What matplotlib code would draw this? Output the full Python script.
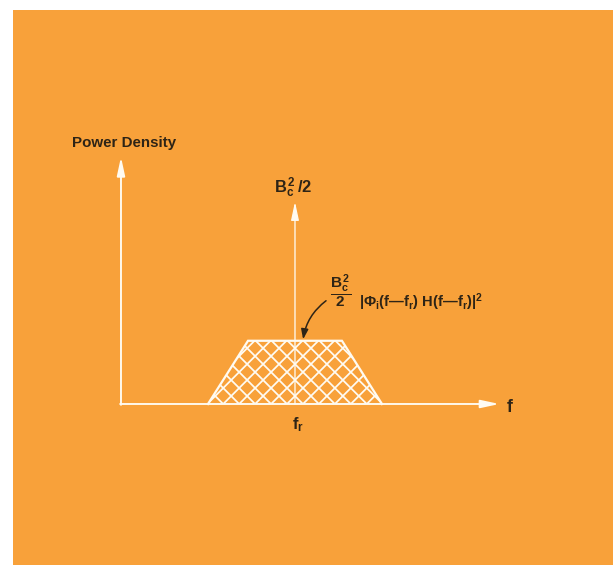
import numpy as np
import matplotlib
matplotlib.use("Agg")
import matplotlib.pyplot as plt
from matplotlib.patches import Rectangle, Polygon

# Spectrum sketch: received power density versus frequency
f_r = 6.0                 # carrier (reference) frequency
half_bottom = 3.0         # half-width of the band at its base
half_top = 1.62           # half-width of the flat top
band_level = 2.18         # level of the filtered spectrum
impulse_level = 6.97      # carrier line B_c^2/2
y_axis_top = 8.52
f_axis_end = 13.05

ylabel_text = "Power Density"
xlabel_text = "f"
fr_label = r"$f_r$"
impulse_label = r"$B_c^{\,2}\,/2$"
band_coef = r"$\dfrac{B_c^{\,2}}{2}$"
band_shape = "$|\\Phi_i(f\u2014f_r)\\ H(f\u2014f_r)|^2$"

ORANGE = "#F8A13A"
INK = "#2E2416"
WHITE = "#FFFBF2"

plt.rcParams["font.family"] = ["Liberation Sans", "DejaVu Sans"]
plt.rcParams["mathtext.fontset"] = "custom"
plt.rcParams["mathtext.default"] = "rm"
plt.rcParams["mathtext.rm"] = "Liberation Sans:bold"
plt.rcParams["mathtext.it"] = "Liberation Sans:bold"
plt.rcParams["mathtext.bf"] = "Liberation Sans:bold"
plt.rcParams["mathtext.sf"] = "Liberation Sans:bold"

DPI = 85
fig = plt.figure(figsize=(613 / DPI, 565 / DPI), dpi=DPI, facecolor="white")

# orange page with a thin white margin at the top and left
fig.patches.append(Rectangle((13 / 613, 0), 1, 1 - 10 / 565,
                             transform=fig.transFigure, facecolor=ORANGE,
                             edgecolor="none", zorder=-10))

ax = fig.add_axes([0, 0, 1, 1], zorder=5)
ax.patch.set_alpha(0)
ax.set_xlim(-4.172, 16.966)
ax.set_ylim(-5.552, 13.931)
ax.axis("off")

# band outline and its cross-hatching (diagonals clipped to the band)
xs = [f_r - half_bottom, f_r - half_top, f_r + half_top, f_r + half_bottom]
ys = [0, band_level, band_level, 0]
band = Polygon(list(zip(xs, ys)), closed=True, facecolor="none", edgecolor="none")
ax.add_patch(band)
step = 0.55
offsets = (np.arange(-12, 12, 1) + 0.5) * step
for c in offsets:
    for sgn in (1, -1):
        lx = np.array([f_r - half_bottom - 1, f_r + half_bottom + 1])
        ly = sgn * (lx - f_r - c)
        ln, = ax.plot(lx, ly, color=WHITE, lw=1.5, zorder=2)
        ln.set_clip_path(band)
ax.plot(xs, ys, color=WHITE, lw=1.9, solid_joinstyle="miter", zorder=3)

arrow_kw = dict(arrowstyle="-|>,head_length=1.3,head_width=0.28",
                color=WHITE, shrinkA=0, shrinkB=0)
# axes arrows
ax.annotate("", xy=(0, y_axis_top), xytext=(0, -0.03),
            arrowprops=dict(lw=1.6, **arrow_kw), zorder=4)
ax.annotate("", xy=(f_axis_end, 0), xytext=(-0.03, 0),
            arrowprops=dict(lw=1.6, **arrow_kw), zorder=4)
# carrier impulse
ax.annotate("", xy=(f_r, impulse_level), xytext=(f_r, 0),
            arrowprops=dict(lw=1.1, **arrow_kw), zorder=4)

# labels
ax.text(-1.68, y_axis_top + 0.47, ylabel_text, fontsize=12.8, fontweight="bold",
        color=INK, ha="left", va="center")
ax.text(f_axis_end + 0.35, -0.12, xlabel_text, fontsize=15, fontweight="bold",
        color=INK, ha="center", va="center")
ax.text(f_r + 0.1, -0.72, fr_label, fontsize=14, color=INK, ha="center", va="center")
ax.text(f_r - 0.72, impulse_level + 0.5, impulse_label, fontsize=14, color=INK,
        ha="left", va="center")
ax.text(f_r + 1.22, band_level + 1.7, band_coef, fontsize=13, color=INK,
        ha="left", va="center")
ax.text(f_r + 2.2, band_level + 1.18, band_shape, fontsize=12.5, color=INK,
        ha="left", va="baseline")

# pointer from the band label to the flat top
ax.annotate("", xy=(f_r + 0.28, band_level + 0.05), xytext=(f_r + 1.07, band_level + 1.38),
            arrowprops=dict(arrowstyle="-|>,head_length=0.7,head_width=0.25",
                            color=INK, lw=1.3, shrinkA=0, shrinkB=0,
                            connectionstyle="arc3,rad=0.2"), zorder=5)

fig.savefig("out.png", dpi=DPI, facecolor="white")
